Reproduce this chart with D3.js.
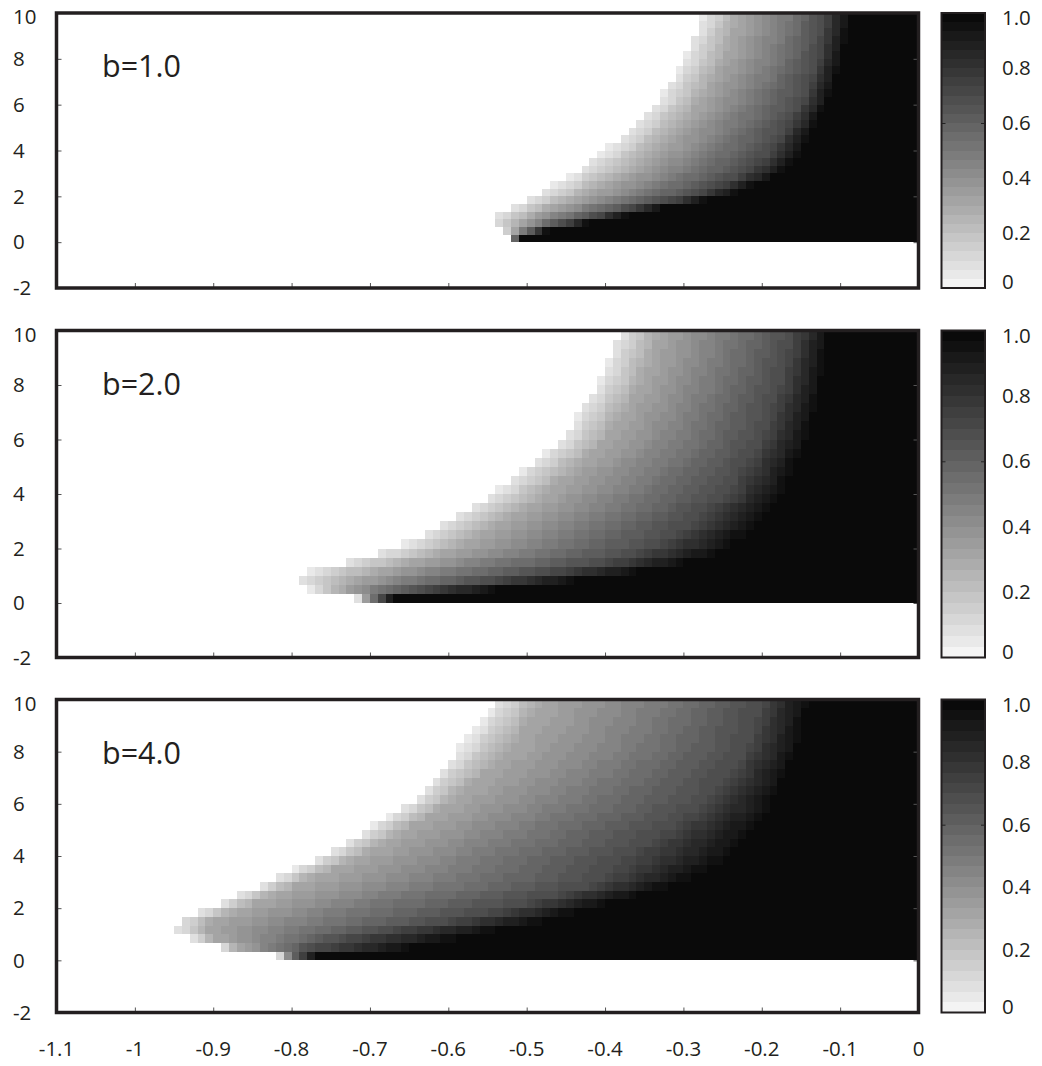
<!DOCTYPE html>
<html>
<head>
<meta charset="utf-8">
<script src="https://cdn.jsdelivr.net/npm/d3@7"></script>
<style>
  body { margin: 0; background: #fff; }
  svg { display: block; }
  text { font-family: "Open Sans", "Noto Sans", sans-serif; fill: #231f20; }
</style>
</head>
<body>
<svg id="chart" width="1042" height="1066"></svg>
<script>
// ---- data ----
const panelLabels = ["b=1.0", "b=2.0", "b=4.0"];
const xTicks = [-1.1, -1.0, -0.9, -0.8, -0.7, -0.6, -0.5, -0.4, -0.3, -0.2, -0.1, 0];
const xTickLabels = ["-1.1", "-1", "-0.9", "-0.8", "-0.7", "-0.6", "-0.5", "-0.4", "-0.3", "-0.2", "-0.1", "0"];
const yTicks = [-2, 0, 2, 4, 6, 8, 10];
const yTickLabels = ["-2", "0", "2", "4", "6", "8", "10"];
const cbTicks = [0, 0.2, 0.4, 0.6, 0.8, 1.0];
const cbTickLabels = ["0", "0.2", "0.4", "0.6", "0.8", "1.0"];

// value reached at each edge column, and the rows (y) where the edges are given
const edgeLevels = [0.05, 0.3, 0.5, 0.7, 1.0];
const edgeRowsY = [0.1, 0.5, 1, 1.5, 2, 3, 4, 6, 8, 10];

// x position of each edge level, one row per entry of edgeRowsY
const edgesB1 = [
  [-0.522, -0.520, -0.519, -0.518, -0.516],
  [-0.532, -0.516, -0.503, -0.490, -0.473],
  [-0.548, -0.503, -0.469, -0.430, -0.392],
  [-0.520, -0.469, -0.418, -0.367, -0.320],
  [-0.492, -0.427, -0.358, -0.290, -0.240],
  [-0.440, -0.371, -0.299, -0.223, -0.167],
  [-0.401, -0.333, -0.261, -0.189, -0.146],
  [-0.335, -0.282, -0.214, -0.150, -0.115],
  [-0.299, -0.248, -0.180, -0.129, -0.095],
  [-0.274, -0.227, -0.163, -0.121, -0.084]
];
const edgesB2 = [
  [-0.705, -0.702, -0.700, -0.698, -0.694],
  [-0.775, -0.735, -0.690, -0.630, -0.530],
  [-0.800, -0.710, -0.620, -0.500, -0.373],
  [-0.735, -0.650, -0.540, -0.400, -0.284],
  [-0.670, -0.590, -0.470, -0.340, -0.233],
  [-0.600, -0.530, -0.410, -0.285, -0.195],
  [-0.545, -0.475, -0.360, -0.245, -0.166],
  [-0.456, -0.400, -0.295, -0.200, -0.138],
  [-0.410, -0.355, -0.262, -0.175, -0.121],
  [-0.382, -0.330, -0.240, -0.160, -0.110]
];
const edgesB4 = [
  [-0.802, -0.798, -0.796, -0.794, -0.790],
  [-0.890, -0.870, -0.820, -0.770, -0.630],
  [-0.950, -0.910, -0.800, -0.710, -0.550],
  [-0.945, -0.900, -0.760, -0.600, -0.470],
  [-0.906, -0.860, -0.720, -0.520, -0.410],
  [-0.830, -0.787, -0.596, -0.405, -0.290],
  [-0.760, -0.710, -0.550, -0.370, -0.225],
  [-0.650, -0.600, -0.440, -0.270, -0.178],
  [-0.590, -0.525, -0.360, -0.220, -0.150],
  [-0.535, -0.480, -0.320, -0.200, -0.135]
];

// grid of cells
const cellDX = 0.01;
const cellDY = 1 / 3;
const nLevels = 30;

// ---- layout ----
const svg = d3.select("#chart");
const frameColor = "#231f20";
const plotLeft = 56.5, plotRight = 918.5;
const cbLeft = 941.5, cbRight = 985;
const panels = [
  { label: panelLabels[0], edges: edgesB1, top: 13, bottom: 288 },
  { label: panelLabels[1], edges: edgesB2, top: 330.5, bottom: 657.5 },
  { label: panelLabels[2], edges: edgesB4, top: 699.5, bottom: 1012.5 }
];

const x = d3.scaleLinear().domain([-1.1, 0]).range([plotLeft, plotRight]);

function grayFor(v) {
  const k = Math.min(nLevels - 1, Math.floor(v * nLevels));
  const t = k / (nLevels - 1);
  const g = Math.round(244 - 234 * Math.pow(t, 0.92));
  return d3.rgb(g, g, g).formatHex();
}

function edgeXs(edges, y) {
  let i = 0;
  if (y <= edgeRowsY[0]) return edges[0];
  if (y >= edgeRowsY[edgeRowsY.length - 1]) return edges[edges.length - 1];
  while (edgeRowsY[i + 1] < y) i++;
  const t = (y - edgeRowsY[i]) / (edgeRowsY[i + 1] - edgeRowsY[i]);
  return edges[i].map((e, j) => e + (edges[i + 1][j] - e) * t);
}

function valueAt(edges, xv, yv) {
  const ex = edgeXs(edges, yv);
  if (xv < ex[0]) return null;
  if (xv >= ex[ex.length - 1]) return 1;
  let k = 0;
  while (xv >= ex[k + 1]) k++;
  const t = (xv - ex[k]) / (ex[k + 1] - ex[k]);
  return edgeLevels[k] + t * (edgeLevels[k + 1] - edgeLevels[k]);
}

const nCols = Math.round(1.1 / cellDX);
const nRows = Math.round(10 / cellDY);

panels.forEach(p => {
  const y = d3.scaleLinear().domain([-2, 10]).range([p.bottom, p.top]);
  const g = svg.append("g");

  // cells, merged into runs of equal colour along each row
  const cells = g.append("g").attr("shape-rendering", "crispEdges");
  for (let r = 0; r < nRows; r++) {
    const y0 = r * cellDY, y1 = y0 + cellDY;
    let run = null;
    const flush = () => {
      if (run) {
        cells.append("rect")
          .attr("x", x(run.x0)).attr("width", x(run.x1) - x(run.x0))
          .attr("y", y(y1)).attr("height", y(y0) - y(y1))
          .attr("fill", run.c);
      }
      run = null;
    };
    for (let c = 0; c < nCols; c++) {
      const x0 = -1.1 + c * cellDX, x1 = x0 + cellDX;
      const v = valueAt(p.edges, x0 + cellDX / 2, y0 + cellDY / 2);
      if (v === null) { flush(); continue; }
      const col = grayFor(v);
      if (run && run.c === col) run.x1 = x1;
      else { flush(); run = { x0, x1, c: col }; }
    }
    flush();
  }

  // inner ticks on left, right and bottom
  g.append("g").attr("transform", `translate(${plotLeft},0)`)
    .call(d3.axisRight(y).tickValues(yTicks).tickSize(5).tickFormat(""))
    .call(a => a.select(".domain").remove())
    .selectAll("line").attr("stroke", "#555").attr("stroke-width", 1);
  g.append("g").attr("transform", `translate(${plotRight},0)`)
    .call(d3.axisLeft(y).tickValues(yTicks).tickSize(5).tickFormat(""))
    .call(a => a.select(".domain").remove())
    .selectAll("line").attr("stroke", "#555").attr("stroke-width", 1);
  g.append("g").attr("transform", `translate(0,${p.bottom})`)
    .call(d3.axisTop(x).tickValues(xTicks).tickSize(5).tickFormat(""))
    .call(a => a.select(".domain").remove())
    .selectAll("line").attr("stroke", "#555").attr("stroke-width", 1);

  // frame
  g.append("rect")
    .attr("x", plotLeft).attr("y", p.top)
    .attr("width", plotRight - plotLeft).attr("height", p.bottom - p.top)
    .attr("fill", "none").attr("stroke", frameColor).attr("stroke-width", 3.5);

  // y tick labels
  g.selectAll("text.ylab").data(yTicks).join("text")
    .attr("class", "ylab")
    .attr("x", 13)
    .attr("y", d => Math.max(y(d), p.top + 4))
    .attr("dy", "0.35em")
    .attr("font-size", 20.5)
    .text((d, i) => yTickLabels[i]);

  // panel label
  g.append("text")
    .attr("x", 102).attr("y", p.top + 64)
    .attr("font-size", 30.5)
    .text(p.label);

  // colour bar
  const cb = d3.scaleLinear().domain([0, 1]).range([p.bottom, p.top]);
  const bands = d3.range(nLevels).map(k => k / nLevels);
  g.append("g").attr("shape-rendering", "crispEdges")
    .selectAll("rect").data(bands).join("rect")
    .attr("x", cbLeft).attr("width", cbRight - cbLeft)
    .attr("y", d => cb(d + 1 / nLevels)).attr("height", d => cb(d) - cb(d + 1 / nLevels))
    .attr("fill", d => grayFor(d + 0.5 / nLevels));
  g.append("g").attr("transform", `translate(${cbLeft},0)`)
    .call(d3.axisRight(cb).tickValues([0.6]).tickSize(4).tickFormat(""))
    .call(a => a.select(".domain").remove())
    .selectAll("line").attr("stroke", "#222");
  g.append("g").attr("transform", `translate(${cbRight},0)`)
    .call(d3.axisLeft(cb).tickValues([0.6]).tickSize(4).tickFormat(""))
    .call(a => a.select(".domain").remove())
    .selectAll("line").attr("stroke", "#222");
  g.append("rect")
    .attr("x", cbLeft).attr("y", p.top)
    .attr("width", cbRight - cbLeft).attr("height", p.bottom - p.top)
    .attr("fill", "none").attr("stroke", frameColor).attr("stroke-width", 2);
  g.selectAll("text.cblab").data(cbTicks).join("text")
    .attr("class", "cblab")
    .attr("x", 1002)
    .attr("y", d => Math.min(Math.max(cb(d), p.top + 5), p.bottom - 6))
    .attr("dy", "0.35em")
    .attr("font-size", 20.5)
    .text((d, i) => cbTickLabels[i]);
});

// x tick labels under the last panel
svg.append("g").selectAll("text").data(xTicks).join("text")
  .attr("x", d => x(d))
  .attr("y", 1049)
  .attr("dy", "0.35em")
  .attr("text-anchor", "middle")
  .attr("font-size", 20.5)
  .text((d, i) => xTickLabels[i]);
</script>
</body>
</html>
